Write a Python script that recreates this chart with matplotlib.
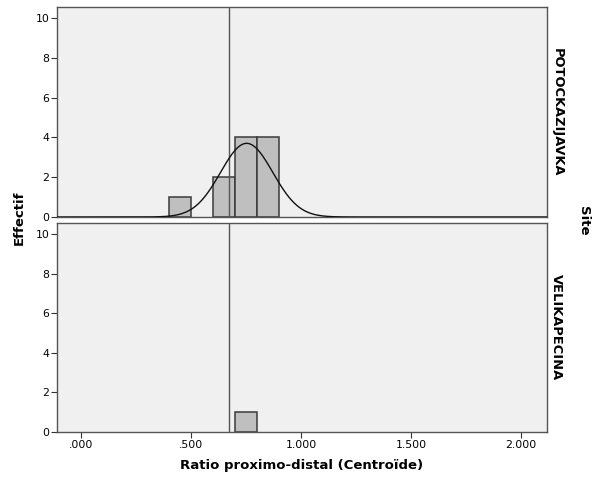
import numpy as np
import matplotlib
matplotlib.use('Agg')
import matplotlib.pyplot as plt

# Histogram data (bin left edges, counts) per site
sites = ['POTOCKAZIJAVKA', 'VELIKAPECINA']
bin_width = 0.1
potocka_bins = [0.4, 0.6, 0.7, 0.8]
potocka_counts = [1, 2, 4, 4]
velika_bins = [0.7]
velika_counts = [1]

# normal curve fitted to POTOCKAZIJAVKA
potocka_mean = 0.753
potocka_sd = 0.1186
potocka_n = 11

# reference line
ref_line = 0.673

x_ticks = [0.0, 0.5, 1.0, 1.5, 2.0]
y_ticks = [0, 2, 4, 6, 8, 10]

bg = '#f0f0f0'
bar_color = '#bfbfbf'
edge = '#3a3a3a'

fig = plt.figure(figsize=(5.98, 4.79), dpi=100)
ax_top = fig.add_axes([0.0953, 0.547, 0.8194, 0.4384])
ax_bot = fig.add_axes([0.0953, 0.0981, 0.8194, 0.4363])

panels = [
    (ax_top, potocka_bins, potocka_counts),
    (ax_bot, velika_bins, velika_counts),
]

for ax, bins, counts in panels:
    ax.set_facecolor(bg)
    ax.bar(bins, counts, width=bin_width, align='edge', color=bar_color,
           edgecolor=edge, linewidth=1.1, zorder=2)
    ax.axvline(ref_line, color='#555555', linewidth=1.0, zorder=3)
    ax.set_xlim(-0.109, 2.118)
    ax.set_ylim(0, 10.55)
    ax.set_yticks(y_ticks)
    ax.set_xticks(x_ticks)
    ax.tick_params(axis='both', direction='out', length=4, width=0.8,
                   color='#333333', labelsize=7.8, pad=1.5)
    for s in ax.spines.values():
        s.set_color('#555555')
        s.set_linewidth(1.0)

xs = np.linspace(-0.109, 2.118, 600)
ys = potocka_n * bin_width / (potocka_sd * np.sqrt(2 * np.pi)) * \
    np.exp(-0.5 * ((xs - potocka_mean) / potocka_sd) ** 2)
ax_top.plot(xs, ys, color='#111111', linewidth=1.0, zorder=4)

ax_top.tick_params(axis='x', bottom=False, labelbottom=False)
ax_bot.set_xticklabels([('%.3f' % v).lstrip('0') if v < 1 else '%.3f' % v for v in x_ticks])
ax_bot.set_xlabel('Ratio proximo-distal (Centroïde)', fontsize=9.5,
                  fontweight='bold', labelpad=7)

ax_top.text(1.007, 0.5, sites[0], transform=ax_top.transAxes, rotation=-90,
            ha='left', va='center', fontsize=9.4, fontweight='bold')
ax_bot.text(1.007, 0.5, sites[1], transform=ax_bot.transAxes, rotation=-90,
            ha='left', va='center', fontsize=9.4, fontweight='bold')

fig.text(0.033, 0.545, 'Effectif', rotation=90, ha='center', va='center',
         fontsize=9.5, fontweight='bold')
fig.text(0.975, 0.54, 'Site', rotation=-90, ha='center', va='center',
         fontsize=9.5, fontweight='bold')

fig.savefig('out.png', dpi=100)
